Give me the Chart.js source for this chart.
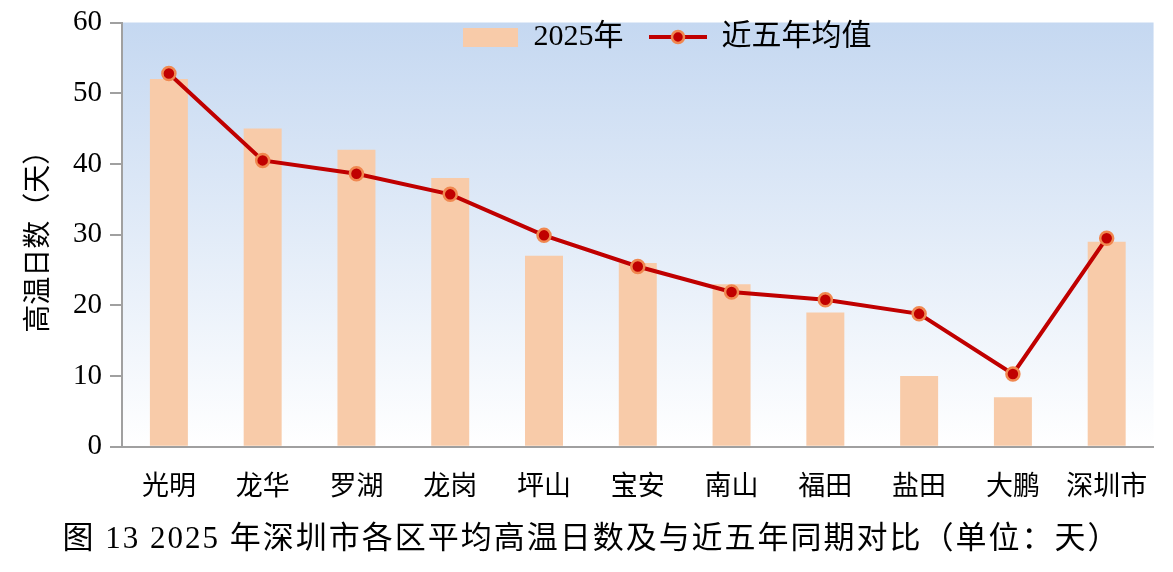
<!DOCTYPE html>
<html>
<head>
<meta charset="utf-8">
<script src="https://cdn.jsdelivr.net/npm/chart.js@4/dist/chart.umd.min.js"></script>
<style>
html,body{margin:0;padding:0;background:#fff;}
#wrap{width:1173px;height:572px;position:relative;}
</style>
</head>
<body>
<div id="wrap"><canvas id="c" width="1173" height="572"></canvas></div>
<script>
const categories = ['光明','龙华','罗湖','龙岗','坪山','宝安','南山','福田','盐田','大鹏','深圳市'];
const days2025 = [52, 45, 42, 38, 27, 26, 23, 19, 10, 7, 29];
const fiveYearAvg = [52.8, 40.5, 38.6, 35.7, 29.9, 25.5, 21.9, 20.8, 18.8, 10.3, 29.5];
const yTicks = [0, 10, 20, 30, 40, 50, 60];
const seriesNames = ['2025年', '近五年均值'];
const yTitle = '高温日数（天）';
const chartTitle = '图 13 2025 年深圳市各区平均高温日数及与近五年同期对比（单位：天）';

const FONT = "'Liberation Serif', 'Times New Roman', 'Noto Sans CJK SC', serif";
const BAR_COLOR = '#f8cba9';
const LINE_COLOR = '#c00000';
const POINT_BORDER = '#f08850';

function legendBar(){
  const c = document.createElement('canvas'); c.width = 55; c.height = 19;
  const x = c.getContext('2d'); x.fillStyle = BAR_COLOR; x.fillRect(0,0,55,19); return c;
}
function legendLine(){
  const c = document.createElement('canvas'); c.width = 58; c.height = 18;
  const x = c.getContext('2d');
  x.strokeStyle = LINE_COLOR; x.lineWidth = 4; x.beginPath(); x.moveTo(0,9); x.lineTo(58,9); x.stroke();
  x.beginPath(); x.arc(29,9,6,0,Math.PI*2); x.fillStyle = LINE_COLOR; x.fill();
  x.lineWidth = 2.5; x.strokeStyle = POINT_BORDER; x.stroke();
  return c;
}

const bgPlugin = {
  id: 'plotBg',
  beforeDraw(chart){
    const {ctx, chartArea:a} = chart;
    const g = ctx.createLinearGradient(0, a.top, 0, a.bottom);
    g.addColorStop(0, '#c5d8f1');
    g.addColorStop(1, '#ffffff');
    ctx.save(); ctx.fillStyle = g; ctx.fillRect(a.left, a.top, a.right - a.left, a.bottom - a.top); ctx.restore();
  }
};

// Overlay the top legend on the plot (reserve no height) and space the caption letters.
const overlayPlugin = {
  id: 'overlayLegend',
  beforeUpdate(chart){
    const lg = chart.legend;
    if (lg && !lg._patched){
      lg._patched = true;
      const fit = lg.fit;
      lg.fit = function(){ fit.call(this); this._realH = this.height; this.height = 0; };
      const draw = lg.draw;
      lg.draw = function(){
        const c = this.ctx, b = this.bottom;
        this.height = this._realH; this.bottom = this.top + this._realH;
        c.save(); c.translate(89, -4 - this.top); draw.call(this); c.restore();
        this.height = 0; this.bottom = b;
      };
    }
    const tb = chart.titleBlock;
    if (tb && !tb._patched){
      tb._patched = true;
      const draw = tb.draw;
      tb.draw = function(){ const c = this.ctx; c.save(); c.letterSpacing = '2px'; c.translate(14, 0); draw.call(this); c.letterSpacing = '0px'; c.restore(); };
    }
  }
};

new Chart(document.getElementById('c'), {
  data: {
    labels: categories,
    datasets: [
      { type: 'bar', label: seriesNames[0], data: days2025, backgroundColor: BAR_COLOR,
        barPercentage: 0.405, categoryPercentage: 1, order: 2 },
      { type: 'line', label: seriesNames[1], data: fiveYearAvg, borderColor: LINE_COLOR, borderWidth: 4,
        pointRadius: 6.5, pointBackgroundColor: LINE_COLOR, pointBorderColor: POINT_BORDER, pointBorderWidth: 2.5,
        tension: 0, order: 1, pointStyle: 'circle' }
    ]
  },
  options: {
    responsive: false,
    animation: false,
    events: [],
    layout: { padding: { top: 10, right: 18, left: 0, bottom: 0 } },
    scales: {
      x: {
        grid: { display: true, drawOnChartArea: false, drawTicks: false },
        border: { display: true, color: '#a0a0a0', width: 2 },
        ticks: { color: '#000', font: { family: FONT, size: 27 }, padding: 25, maxRotation: 0, autoSkip: false },
        afterFit(s){ s.height = 69; }
      },
      y: {
        min: 0, max: 60,
        afterBuildTicks(s){ s.ticks = yTicks.map(v => ({ value: v })); },
        grid: { display: true, drawOnChartArea: false, drawTicks: true, tickLength: 12, color: '#a0a0a0', lineWidth: 2 },
        border: { display: true, color: '#a0a0a0', width: 2 },
        ticks: { color: '#000', font: { family: FONT, size: 29, lineHeight: 1 }, padding: 8 },
        title: { display: true, text: yTitle, color: '#000', font: { family: FONT, size: 28 }, padding: { top: 23, bottom: 0 } },
        afterFit(s){ s.width = 122; }
      }
    },
    plugins: {
      legend: {
        position: 'top', align: 'center',
        labels: {
          usePointStyle: true, pointStyleWidth: 57, padding: 26,
          color: '#000', font: { family: FONT, size: 30 },
          generateLabels(chart){
            const imgs = [legendBar(), legendLine()];
            return chart.data.datasets.map((d, i) => ({
              text: d.label, pointStyle: imgs[i], fillStyle: 'transparent', strokeStyle: 'transparent',
              lineWidth: 0, hidden: false, datasetIndex: i, fontColor: '#000'
            }));
          }
        }
      },
      title: {
        display: true, position: 'bottom', text: chartTitle, color: '#000',
        font: { family: FONT, size: 31, weight: 'normal' }, padding: { top: 5, bottom: 14 }
      },
      tooltip: { enabled: false }
    }
  },
  plugins: [bgPlugin, overlayPlugin]
});
</script>
</body>
</html>
